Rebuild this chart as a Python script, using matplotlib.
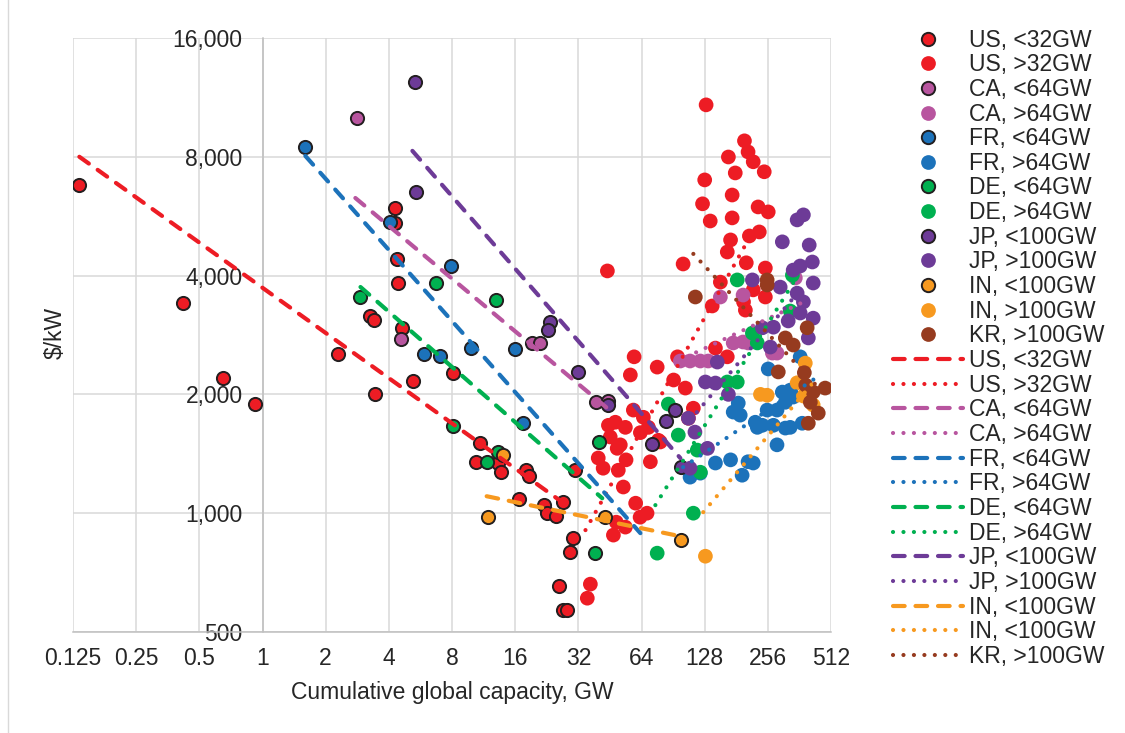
import matplotlib
matplotlib.use('Agg')
import matplotlib.pyplot as plt
from matplotlib.lines import Line2D

plt.rcParams['font.family'] = ['Liberation Sans', 'DejaVu Sans']

# --- points (cumulative global capacity GW, $/kW) ---
us_lo_x = [0.134, 0.416, 0.645, 0.916, 2.28, 3.45, 3.27, 3.38, 4.30, 4.30, 4.35, 4.40, 4.64, 5.24,
           8.12, 10.9, 10.45, 13.2, 13.75, 18.1, 18.7, 16.75, 22.0, 22.8, 24.9, 26.9, 31.0, 30.3,
           29.3, 26.0, 27.1, 28.1]
us_lo_y = [6790, 3410, 2200, 1890, 2530, 2000, 3160, 3090, 5940, 5440, 4410, 3830, 2950, 2160,
           2270, 1510, 1350, 1340, 1270, 1285, 1240, 1085, 1050, 1000, 983, 1065, 1285, 864,
           796, 653, 567, 567]

us_hi_x = [130, 198, 166, 206, 218, 246, 179, 128, 173, 125, 230, 257, 136, 173, 233, 209, 170,
           164, 202, 101, 44, 249, 152, 218, 249, 200, 139, 59, 56.6, 76, 95, 91, 103.5, 144, 164,
           58.5, 48, 53.6, 65.3, 69, 45.4, 50.7, 63.2, 77, 113, 107, 44.5, 49, 39.8, 42, 49.6, 54,
           70.5, 52.4, 60, 63, 68, 48.5, 53.6, 47, 36.5, 35.3, 78.6, 196]
us_hi_y = [10830, 8780, 7990, 8230, 7770, 7330, 7280, 6990, 6400, 6080, 5970, 5800, 5500, 5600,
           5160, 5040, 4925, 4590, 4310, 4280, 4110, 4180, 3850, 3680, 3530, 3270, 3350, 2490,
           2240, 2345, 2490, 2175, 2075, 2620, 2490, 1825, 1700, 1650, 1750, 1650, 1560, 1490,
           1600, 1530, 1845, 1740, 1670, 1460, 1380, 1300, 1285, 1365, 1350, 1165, 1060, 977,
           1000, 949, 922, 880, 661, 609, 1515, 3430]

ca_lo_x = [2.83, 4.59, 19.3, 21.1, 39.0, 44.5]
ca_lo_y = [10040, 2760, 2700, 2700, 1910, 1920]
ca_hi_x = [98, 109, 122, 133, 152, 195, 175, 195, 206, 269, 283, 346]
ca_hi_y = [2430, 2430, 2430, 2430, 3530, 3570, 2700, 2715, 2700, 2545, 2545, 3945]

fr_lo_x = [1.60, 4.07, 5.91, 7.04, 7.95, 9.90, 16.0, 17.5]
fr_lo_y = [8470, 5470, 2530, 2500, 4230, 2620, 2605, 1690]
fr_hi_x = [257, 365, 300, 327, 185, 175, 189, 254, 283, 310, 338, 223, 241, 272, 327, 373, 283,
           170, 206, 218, 193, 144, 122, 109, 228, 310]
fr_hi_y = [2320, 2490, 2027, 2050, 1901, 1804, 1772, 1825, 1825, 1910, 1969, 1700, 1670, 1670,
           1650, 1690, 1490, 1365, 1350, 1340, 1248, 1340, 1263, 1234, 1650, 1643]

de_lo_x = [2.93, 6.74, 12.9, 8.12, 13.2, 11.7, 40.3, 38.6]
de_lo_y = [3530, 3830, 3470, 1662, 1428, 1350, 1515, 792]
de_hi_x = [113, 76, 95.8, 118, 122, 85.9, 183, 164, 183, 216, 228, 335, 327]
de_hi_y = [1000, 792, 1577, 1445, 1270, 1890, 2150, 2150, 3900, 2860, 2700, 4010, 3253]

jp_lo_x = [5.30, 5.41, 23.5, 23.0, 32, 44.5, 72, 84, 92.7, 99]
jp_lo_y = [12390, 6520, 3050, 2910, 2280, 1879, 1496, 1711, 1825, 1310]
jp_hi_x = [378, 353, 300, 403, 417, 365, 338, 216, 421, 353, 293, 378, 421, 365, 320, 272, 399,
           263, 147, 129, 144, 166, 107, 115, 132, 109, 241]
jp_hi_y = [5700, 5535, 4870, 4780, 4330, 4230, 4130, 3900, 3830, 3610, 3740, 3430, 3120, 3215,
           3070, 2960, 2780, 2636, 2415, 2150, 2137, 2000, 1740, 1605, 1460, 1300, 2950]

in_lo_x = [14.06, 11.9, 43.0, 99]
in_lo_y = [1403, 977, 977, 854]
in_hi_x = [129, 236, 254, 386, 353, 378, 421]
in_hi_y = [778, 2000, 1990, 2400, 2140, 1981, 1879]

kr_x = [115.5, 254, 254, 394, 310, 338, 287, 382, 388, 421, 480, 408, 445, 399]
kr_y = [3530, 3900, 3786, 2950, 2780, 2667, 2280, 2270, 2111, 2027, 2075, 1910, 1793, 1690]

# --- trend lines, end points ---
us_lo_fit = ([0.134, 30.3], [8000, 1018])
us_hi_fit = ([34.6, 200], [906, 4780])
ca_lo_fit = ([2.77, 46.5], [6290, 1800])
ca_hi_fit = ([105, 370], [2490, 3410])
fr_lo_fit = ([1.60, 63.2], [8040, 890])
fr_hi_fit = ([101, 455], [1308, 2240])
de_lo_fit = ([2.93, 41.6], [3742, 1091])
de_hi_fit = ([74.5, 350], [1048, 3950])
jp_lo_fit = ([5.18, 98], [8280, 1379])
jp_hi_fit = ([109, 365], [1720, 3680])
in_lo_fit = ([11.7, 98], [1104, 874])
in_hi_fit = ([126, 431], [1006, 2175])
kr_fit = ([113, 465], [4540, 2030])

x_ticks = [0.125, 0.25, 0.5, 1, 2, 4, 8, 16, 32, 64, 128, 256, 512]
x_labels = ['0.125', '0.25', '0.5', '1', '2', '4', '8', '16', '32', '64', '128', '256', '512']
y_ticks = [500, 1000, 2000, 4000, 8000, 16000]
y_labels = ['500', '1,000', '2,000', '4,000', '8,000', '16,000']

RED = '#ED1C24'
PINK = '#B8559F'
BLUE = '#1C72BA'
GREEN = '#00B050'
PURPLE = '#6D3B97'
ORANGE = '#F7991F'
BROWN = '#963B1F'
EDGE = '#231F20'
TXT = '#262626'

points = [
    ('US, <32GW', us_lo_x, us_lo_y, RED, True),
    ('US, >32GW', us_hi_x, us_hi_y, RED, False),
    ('CA, <64GW', ca_lo_x, ca_lo_y, PINK, True),
    ('CA, >64GW', ca_hi_x, ca_hi_y, PINK, False),
    ('FR, <64GW', fr_lo_x, fr_lo_y, BLUE, True),
    ('FR, >64GW', fr_hi_x, fr_hi_y, BLUE, False),
    ('DE, <64GW', de_lo_x, de_lo_y, GREEN, True),
    ('DE, >64GW', de_hi_x, de_hi_y, GREEN, False),
    ('JP, <100GW', jp_lo_x, jp_lo_y, PURPLE, True),
    ('JP, >100GW', jp_hi_x, jp_hi_y, PURPLE, False),
    ('IN, <100GW', in_lo_x, in_lo_y, ORANGE, True),
    ('IN, >100GW', in_hi_x, in_hi_y, ORANGE, False),
    ('KR, >100GW', kr_x, kr_y, BROWN, False),
]
fits = [
    ('US, <32GW', us_lo_fit, RED, 'dash'),
    ('US, >32GW', us_hi_fit, RED, 'dot'),
    ('CA, <64GW', ca_lo_fit, PINK, 'dash'),
    ('CA, >64GW', ca_hi_fit, PINK, 'dot'),
    ('FR, <64GW', fr_lo_fit, BLUE, 'dash'),
    ('FR, >64GW', fr_hi_fit, BLUE, 'dot'),
    ('DE, <64GW', de_lo_fit, GREEN, 'dash'),
    ('DE, >64GW', de_hi_fit, GREEN, 'dot'),
    ('JP, <100GW', jp_lo_fit, PURPLE, 'dash'),
    ('JP, >100GW', jp_hi_fit, PURPLE, 'dot'),
    ('IN, <100GW', in_lo_fit, ORANGE, 'dash'),
    ('IN, <100GW', in_hi_fit, ORANGE, 'dot'),
    ('KR, >100GW', kr_fit, BROWN, 'dot'),
]
dash_style = {'dash': (0, (2.8, 2.6)), 'dot': (0, (0.01, 2.5))}

fig = plt.figure(figsize=(11.25, 7.33), dpi=100)
ax = fig.add_axes([0.0649, 0.1378, 0.6738, 0.8104])
ax.set_xscale('log', base=2)
ax.set_yscale('log', base=2)

handles = []
for label, xs, ys, col, edged in points:
    if edged:
        ax.scatter(xs, ys, s=90, color=col, edgecolors=EDGE, linewidths=1.4, zorder=3)
        h = Line2D([], [], marker='o', ls='none', ms=9.6, mfc=col, mec=EDGE, mew=1.4)
    else:
        ax.scatter(xs, ys, s=112, color=col, edgecolors='none', zorder=3)
        h = Line2D([], [], marker='o', ls='none', ms=10.6, mfc=col, mec='none')
    handles.append((h, label))

for label, (fx, fy), col, kind in fits:
    ax.plot(fx, fy, color=col, lw=3, ls=dash_style[kind], dash_capstyle='round', zorder=4)
    h = Line2D([], [], color=col, lw=3, ls=dash_style[kind], dash_capstyle='round')
    handles.append((h, label))

ax.set_xlim(0.125, 512)
ax.set_ylim(500, 16000)
ax.set_xticks(x_ticks)
ax.set_xticklabels(x_labels)
ax.set_yticks(y_ticks)
ax.set_yticklabels(y_labels)
ax.minorticks_off()
ax.grid(True, color='#D9D9D9', lw=1.1)
ax.set_axisbelow(True)

for s in ['top', 'right']:
    ax.spines[s].set_visible(False)
ax.spines['left'].set_position(('data', 1))
ax.spines['left'].set_color('#BFBFBF')
ax.spines['bottom'].set_color('#BFBFBF')
ax.spines['left'].set_linewidth(1.1)
ax.spines['bottom'].set_linewidth(1.1)

ax.tick_params(length=0, labelsize=16.5, labelcolor=TXT)
ax.tick_params(axis='x', pad=10.8)
ax.tick_params(axis='y', pad=14.4)

ax.set_xlabel('Cumulative global capacity, GW', fontsize=16.5, color=TXT)
ax.xaxis.set_label_coords(0.5, -0.0825)
ax.set_ylabel('$/kW', fontsize=16.5, color=TXT)
ax.yaxis.set_label_coords(-0.008, 0.503)

fig.legend([h for h, _ in handles], [l for _, l in handles],
           loc='upper left', bbox_to_anchor=(0.794, 0.961), frameon=False,
           fontsize=16.5, handlelength=3.06, handletextpad=0.26,
           labelspacing=0.072, borderpad=0, borderaxespad=0, labelcolor=TXT)

fig.add_artist(Line2D([8 / 1125, 8 / 1125], [0, 1], transform=fig.transFigure,
                      color='#D9D9D9', lw=1))

fig.savefig('out.png', dpi=100)
